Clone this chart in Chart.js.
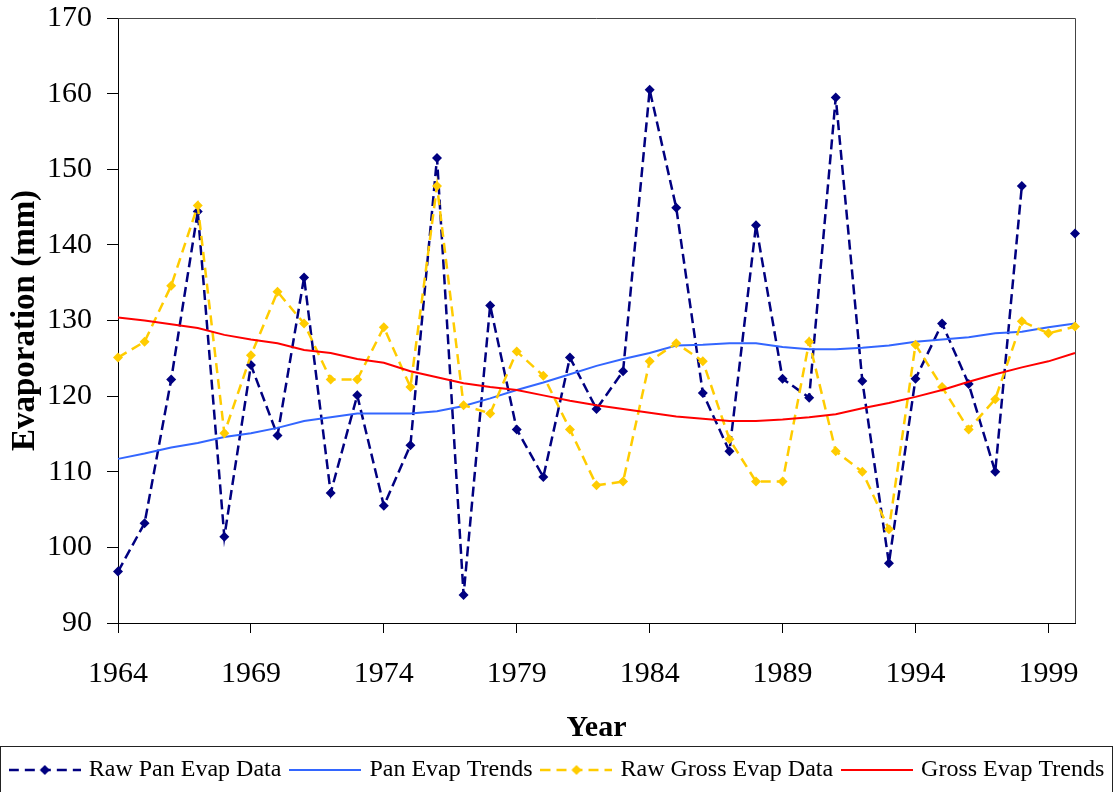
<!DOCTYPE html>
<html>
<head>
<meta charset="utf-8">
<script src="https://cdn.jsdelivr.net/npm/chart.js@4.4.0/dist/chart.umd.min.js"></script>
<style>
  body { margin: 0; background: #fff; }
  #wrap { width: 1117px; height: 792px; }
</style>
</head>
<body>
<div id="wrap"><canvas id="evapChart" width="1117" height="792"></canvas></div>
<script>
const years = [1964, 1965, 1966, 1967, 1968, 1969, 1970, 1971, 1972, 1973, 1974, 1975, 1976,
  1977, 1978, 1979, 1980, 1981, 1982, 1983, 1984, 1985, 1986, 1987, 1988, 1989, 1990,
  1991, 1992, 1993, 1994, 1995, 1996, 1997, 1998, 1999, 2000];

const rawPan = [96.8, 103.2, 122.2, 144.4, 101.4, 124.1, 114.8, 135.7, 107.2, 120.1, 105.5, 113.5, 151.5,
  93.7, 132.0, 115.6, 109.3, 125.1, 118.3, 123.3, 160.5, 144.9, 120.4, 112.7, 142.6, 122.3, 119.8,
  159.5, 122.0, 97.9, 122.3, 129.6, 121.6, 110.0, 147.8, null, 141.5];

const panTrend = [111.7, 112.4, 113.2, 113.8, 114.6, 115.1, 115.8, 116.7, 117.2, 117.7, 117.7, 117.7, 118.0,
  118.7, 119.7, 120.8, 121.8, 122.9, 124.0, 124.9, 125.7, 126.7, 126.8, 127.0, 127.0, 126.5, 126.2,
  126.2, 126.4, 126.7, 127.2, 127.5, 127.8, 128.3, 128.5, 129.1, 129.6];

const rawGross = [125.1, 127.2, 134.6, 145.2, 115.1, 125.4, 133.8, 129.6, 122.2, 122.2, 129.1, 121.2, 147.8,
  118.8, 117.7, 125.9, 122.7, 115.6, 108.2, 108.7, 124.6, 127.0, 124.6, 114.3, 108.7, 108.7, 127.2,
  112.7, 110.0, 102.4, 126.8, 121.2, 115.6, 119.6, 129.9, 128.3, 129.2];

const grossTrend = [130.4, 130.0, 129.5, 129.0, 128.1, 127.5, 127.0, 126.1, 125.7, 124.9, 124.4, 123.3, 122.5,
  121.7, 121.2, 120.8, 120.1, 119.4, 118.8, 118.3, 117.8, 117.3, 117.0, 116.7, 116.7, 116.9, 117.2,
  117.6, 118.4, 119.1, 119.9, 120.8, 121.9, 122.9, 123.8, 124.6, 125.7];

const seriesNames = ['Raw Pan Evap Data', 'Pan Evap Trends', 'Raw Gross Evap Data', 'Gross Evap Trends'];

(function(){
  const ctx = document.getElementById('evapChart');
  const serif = "'Liberation Serif', 'Times New Roman', serif";

  // little line samples for the legend (dashes + diamond like excel)
  function legendSample(color, dash, width, marker) {
    const c = document.createElement('canvas');
    c.width = 72; c.height = 20;
    const g = c.getContext('2d');
    g.strokeStyle = color;
    g.lineWidth = width;
    g.setLineDash(dash);
    g.beginPath(); g.moveTo(0, 10); g.lineTo(72, 10); g.stroke();
    if (marker) {
      g.fillStyle = color;
      g.beginPath();
      g.moveTo(36, 5); g.lineTo(41, 10); g.lineTo(36, 15); g.lineTo(31, 10);
      g.closePath(); g.fill();
    }
    return c;
  }

  const samples = [
    legendSample('#000080', [10, 6], 2.5, true),
    legendSample('#3366FF', [], 2, false),
    legendSample('#FFCC00', [10, 6], 2.5, true),
    legendSample('#FF0000', [], 2, false)
  ];

  const frame = {
    id: 'frame',
    beforeDatasetsDraw(chart) {
      const a = chart.chartArea, c = chart.ctx, lg = chart.legend;
      c.save();
      c.lineWidth = 1;
      c.strokeStyle = '#444';
      c.beginPath();
      c.moveTo(a.left, Math.round(a.top) + 0.5);
      c.lineTo(Math.round(a.right) + 0.5, Math.round(a.top) + 0.5);
      c.lineTo(Math.round(a.right) + 0.5, a.bottom);
      c.stroke();
      c.strokeStyle = '#222';
      c.strokeRect(0.5, Math.round(lg.top) + 0.5, 1112, chart.height);
      c.restore();
    }
  };

  new Chart(ctx, {
    type: 'line',
    data: {
      labels: years,
      datasets: [{
        label: seriesNames[0],
        data: rawPan,
        borderColor: '#000080',
        backgroundColor: '#000080',
        borderWidth: 2.5,
        borderDash: [10, 5],
        pointStyle: 'rectRot',
        pointRadius: 5,
        pointBorderWidth: 0,
        spanGaps: false,
        order: 4
      }, {
        label: seriesNames[1],
        data: panTrend,
        borderColor: '#3366FF',
        borderWidth: 2,
        pointRadius: 0,
        order: 3
      }, {
        label: seriesNames[2],
        data: rawGross,
        borderColor: '#FFCC00',
        backgroundColor: '#FFCC00',
        borderWidth: 2.5,
        borderDash: [10, 6],
        pointStyle: 'rectRot',
        pointRadius: 5,
        pointBorderWidth: 0,
        order: 2
      }, {
        label: seriesNames[3],
        data: grossTrend,
        borderColor: '#FF0000',
        borderWidth: 2,
        pointRadius: 0,
        order: 1
      }]
    },
    options: {
      responsive: false,
      animation: false,
      layout: {
        padding: 0
      },
      elements: {
        line: { tension: 0 }
      },
      scales: {
        x: {
          type: 'category',
          offset: false,
          afterFit: function(scale) { scale.height = 123; },
          grid: {
            display: true,
            drawOnChartArea: false,
            drawTicks: true,
            tickLength: 10,
            color: '#000'
          },
          border: { display: true, color: '#000', width: 1 },
          ticks: {
            autoSkip: false,
            maxRotation: 0,
            color: '#000',
            padding: 26,
            font: { family: serif, size: 30, lineHeight: 1 },
            callback: function(val, i) {
              return i % 5 === 0 ? String(years[i]) : null;
            }
          },
          title: {
            display: true,
            text: 'Year',
            color: '#000',
            padding: { top: 0, bottom: 0 },
            font: { family: serif, size: 30, weight: 'bold', lineHeight: 1.2 }
          }
        },
        y: {
          min: 90,
          max: 170,
          afterFit: function(scale) {
            scale.width = 118;
            scale.paddingTop = 18;
          },
          grid: {
            display: true,
            drawOnChartArea: false,
            drawTicks: true,
            tickLength: 11,
            color: '#000'
          },
          border: { display: true, color: '#000', width: 1 },
          ticks: {
            stepSize: 10,
            color: '#000',
            padding: 15,
            font: { family: serif, size: 30, lineHeight: 1.2 }
          },
          title: {
            display: true,
            text: 'Evaporation (mm)',
            color: '#000',
            padding: { top: 6, bottom: 0 },
            font: { family: serif, size: 33, weight: 'bold', lineHeight: 1.2 }
          }
        },
        // empty axis on the right, only there to keep the plot off the edge
        yRight: {
          position: 'right',
          min: 90,
          max: 170,
          afterFit: function(scale) {
            scale.width = 42;
            scale.paddingTop = 0;
          },
          grid: { display: false, drawTicks: false },
          border: { display: false },
          ticks: { display: false }
        }
      },
      plugins: {
        legend: {
          position: 'bottom',
          labels: {
            usePointStyle: true,
            pointStyleWidth: 64,
            padding: 12,
            color: '#000',
            font: { family: serif, size: 24 },
            sort: function(a, b) { return a.datasetIndex - b.datasetIndex; },
            generateLabels: function(chart) {
              return chart.data.datasets.map(function(ds, i) {
                return {
                  text: ds.label,
                  datasetIndex: i,
                  pointStyle: samples[i],
                  fillStyle: 'transparent',
                  strokeStyle: 'transparent',
                  lineWidth: 0,
                  fontColor: '#000',
                  hidden: false
                };
              });
            }
          }
        },
        tooltip: { enabled: false }
      }
    },
    plugins: [frame]
  });
})();
</script>
</body>
</html>
